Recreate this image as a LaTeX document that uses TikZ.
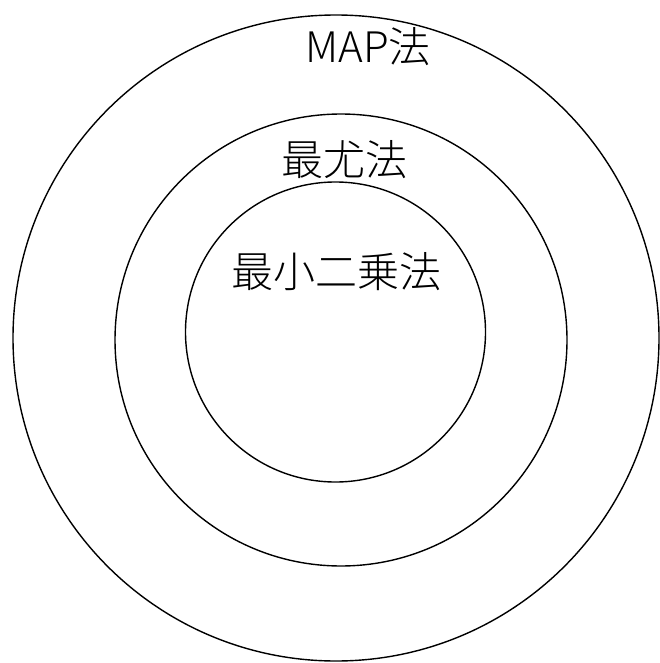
\documentclass[tikz,border=0pt]{standalone}
\usepackage{fontspec}
\newfontfamily\jp{Noto Sans CJK JP Light}
\begin{document}
\begin{tikzpicture}[x=1pt,y=-1pt,
  ring/.style={draw=black,line width=1.4pt},
  lbl/.style={font=\jp\fontsize{42}{48}\selectfont,inner sep=0pt,anchor=center}]
\useasboundingbox (0,0) rectangle (659,663);
\draw[ring] (336,338) circle (323);
\draw[ring] (341,340) circle (226);
\draw[ring] (335.5,332) circle (150);
\node[lbl] (map) at (368,47) {MAP法};
\node[lbl] (ml) at (344,160) {最尤法};
\node[lbl] (ls) at (336,272) {最小二乗法};
\end{tikzpicture}
\end{document}
